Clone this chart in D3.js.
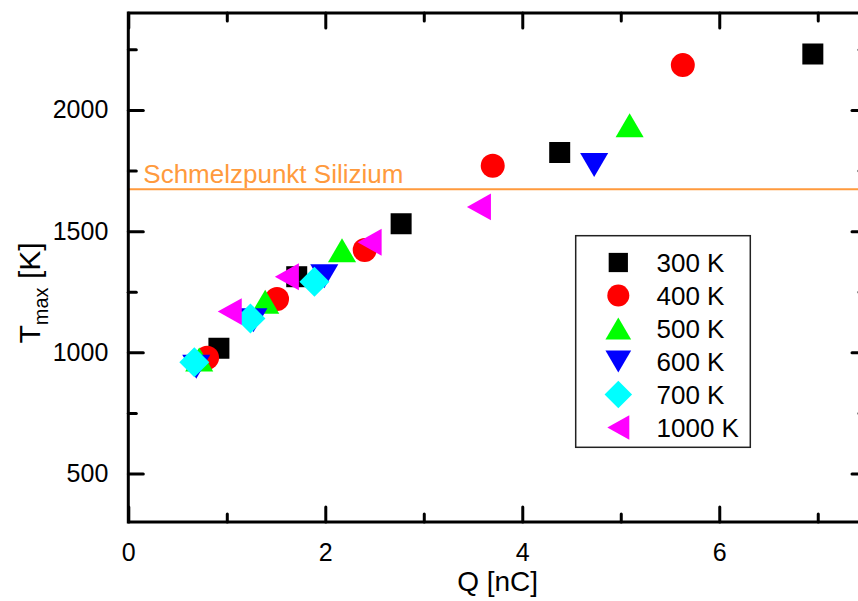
<!DOCTYPE html>
<html>
<head>
<meta charset="utf-8">
<script src="https://cdn.jsdelivr.net/npm/d3@7"></script>
<style>
  html, body { margin: 0; padding: 0; background: #fff; }
  svg { display: block; font-family: "Liberation Sans", Arial, sans-serif; }
</style>
</head>
<body>
<svg id="chart" width="858" height="601"></svg>
<script>
// Maximum temperature versus deposited charge, one series per substrate temperature
const seriesNames = ["300 K", "400 K", "500 K", "600 K", "700 K", "1000 K"];
const seriesColors = ["#000000", "#ff0000", "#00ff00", "#0000ff", "#00ffff", "#ff00ff"];
const seriesShapes = ["square", "circle", "triangleUp", "triangleDown", "diamond", "triangleLeft"];

const q300 = [0.92, 1.71, 2.77, 4.38, 6.95];
const t300 = [1017, 1312, 1531, 1824, 2231];
const q400 = [0.80, 1.51, 2.40, 3.70, 5.63];
const t400 = [978, 1220, 1422, 1770, 2185];
const q500 = [0.72, 1.39, 2.17, 5.09];
const t500 = [970, 1209, 1421, 1937];
const q600 = [0.69, 1.27, 1.99, 4.73];
const t600 = [941, 1132, 1314, 1773];
const q700 = [0.67, 1.24, 1.89];
const t700 = [959, 1140, 1291];
const q1000 = [1.03, 1.61, 2.45, 3.56];
const t1000 = [1168, 1312, 1454, 1600];

const xMajorTicks = [0, 2, 4, 6];
const xMinorTicks = [1, 3, 5, 7];
const yMajorTicks = [500, 1000, 1500, 2000];
const yMinorTicks = [750, 1250, 1750, 2250];

const meltingPoint = 1673;
const meltingLabel = "Schmelzpunkt Silizium";

const seriesQ = [q300, q400, q500, q600, q700, q1000];
const seriesT = [t300, t400, t500, t600, t700, t1000];
const series = seriesNames.map((name, i) => ({
  name, color: seriesColors[i], shape: seriesShapes[i],
  points: seriesQ[i].map((q, j) => ({ q, t: seriesT[i][j] }))
}));

// Layout
const plotLeft = 128.3, plotRight = 867, plotTop = 13, plotBottom = 522;
const x = d3.scaleLinear().domain([0, 7.5]).range([plotLeft, plotRight]);
const y = d3.scaleLinear().domain([300, 2400]).range([plotBottom, plotTop]);

const svg = d3.select("#chart");

// Marker shapes as custom d3.symbol types; size = nominal width in px
const shapeTypes = {
  square: { draw(c, s) { const h = s * 0.875 / 2; c.rect(-h, -h, 2 * h, 2 * h); } },
  circle: { draw(c, s) { const r = s / 2; c.moveTo(r, 0); c.arc(0, 0, r, 0, 2 * Math.PI); } },
  triangleUp: { draw(c, s) { const w = s * 1.17 / 2, h = s / 2;
    c.moveTo(0, -h); c.lineTo(w, h); c.lineTo(-w, h); c.closePath(); } },
  triangleDown: { draw(c, s) { const w = s * 1.17 / 2, h = s / 2;
    c.moveTo(0, h); c.lineTo(w, -h); c.lineTo(-w, -h); c.closePath(); } },
  diamond: { draw(c, s) { const r = s * 1.25 / 2;
    c.moveTo(0, -r); c.lineTo(r, 0); c.lineTo(0, r); c.lineTo(-r, 0); c.closePath(); } },
  triangleLeft: { draw(c, s) { const w = s / 2, h = s * 1.12 / 2;
    c.moveTo(-w, 0); c.lineTo(w, -h); c.lineTo(w, h); c.closePath(); } }
};
const symbolPath = (shape, size) => d3.symbol().type(shapeTypes[shape]).size(size)();

// Clip region for the plotting area
svg.append("defs").append("clipPath").attr("id", "plotClip")
  .append("rect").attr("x", plotLeft).attr("y", plotTop)
  .attr("width", plotRight - plotLeft).attr("height", plotBottom - plotTop);

// Melting point reference line and its label
svg.append("line")
  .attr("x1", plotLeft).attr("x2", plotRight)
  .attr("y1", y(meltingPoint)).attr("y2", y(meltingPoint))
  .attr("stroke", "#ff9a3d").attr("stroke-width", 2);
svg.append("text")
  .attr("x", plotLeft + 15).attr("y", y(meltingPoint) - 6.5)
  .attr("fill", "#ff9a3d").attr("font-size", 26)
  .text(meltingLabel);

// Data markers
const plot = svg.append("g").attr("clip-path", "url(#plotClip)");
series.forEach(s => {
  plot.append("g").selectAll("path")
    .data(s.points)
    .join("path")
    .attr("transform", d => `translate(${x(d.q)},${y(d.t)})`)
    .attr("d", symbolPath(s.shape, 24))
    .attr("fill", s.color);
});

// Axes: ticks point inward on all four sides
function styleAxis(g) {
  g.select(".domain").remove();
  g.selectAll(".tick line").attr("stroke", "#000").attr("stroke-width", 3).attr("stroke-linecap", "round");
  g.selectAll("text").attr("fill", "#000").attr("font-size", 25)
    .attr("font-family", "'Liberation Sans', Arial, sans-serif");
}
const majorLen = 15, minorLen = 8;

svg.append("g").attr("transform", `translate(0,${plotBottom})`)
  .call(d3.axisBottom(x).tickValues(xMajorTicks).tickSizeInner(-majorLen).tickSizeOuter(0)
    .tickPadding(21).tickFormat(d3.format("d")))
  .call(styleAxis);
svg.append("g").attr("transform", `translate(0,${plotBottom})`)
  .call(d3.axisBottom(x).tickValues(xMinorTicks).tickSizeInner(-minorLen).tickSizeOuter(0).tickFormat(""))
  .call(styleAxis);
svg.append("g").attr("transform", `translate(0,${plotTop})`)
  .call(d3.axisTop(x).tickValues(xMajorTicks).tickSizeInner(-majorLen).tickSizeOuter(0).tickFormat(""))
  .call(styleAxis);
svg.append("g").attr("transform", `translate(0,${plotTop})`)
  .call(d3.axisTop(x).tickValues(xMinorTicks).tickSizeInner(-minorLen).tickSizeOuter(0).tickFormat(""))
  .call(styleAxis);

svg.append("g").attr("transform", `translate(${plotLeft},0)`)
  .call(d3.axisLeft(y).tickValues(yMajorTicks).tickSizeInner(-majorLen).tickSizeOuter(0)
    .tickPadding(20).tickFormat(d3.format("d")))
  .call(styleAxis);
svg.append("g").attr("transform", `translate(${plotLeft},0)`)
  .call(d3.axisLeft(y).tickValues(yMinorTicks).tickSizeInner(-minorLen).tickSizeOuter(0).tickFormat(""))
  .call(styleAxis);
svg.append("g").attr("transform", `translate(${plotRight},0)`)
  .call(d3.axisRight(y).tickValues(yMajorTicks).tickSizeInner(-majorLen).tickSizeOuter(0).tickFormat(""))
  .call(styleAxis);
svg.append("g").attr("transform", `translate(${plotRight},0)`)
  .call(d3.axisRight(y).tickValues(yMinorTicks).tickSizeInner(-minorLen).tickSizeOuter(0).tickFormat(""))
  .call(styleAxis);

// Frame
svg.append("rect")
  .attr("x", plotLeft).attr("y", plotTop)
  .attr("width", plotRight - plotLeft).attr("height", plotBottom - plotTop)
  .attr("fill", "none").attr("stroke", "#000").attr("stroke-width", 3);

// Axis titles
svg.append("text")
  .attr("x", (plotLeft + plotRight) / 2).attr("y", 591)
  .attr("text-anchor", "middle").attr("font-size", 28)
  .text("Q [nC]");

const yTitle = svg.append("text")
  .attr("transform", "translate(40,293) rotate(-90)")
  .attr("text-anchor", "middle").attr("font-size", 30);
yTitle.append("tspan").text("T");
yTitle.append("tspan").attr("font-size", 20).attr("dy", 8).text("max");
yTitle.append("tspan").attr("dy", -8).text(" [K]");

// Legend
const lg = { x: 575.7, y: 235.7, w: 174.6, h: 211.6 };
const legend = svg.append("g");
legend.append("rect")
  .attr("x", lg.x).attr("y", lg.y).attr("width", lg.w).attr("height", lg.h)
  .attr("fill", "#fff").attr("stroke", "#222").attr("stroke-width", 1.5);
const rowY = d3.scalePoint().domain(seriesNames).range([262.5, 427.5]);
series.forEach(s => {
  const cy = rowY(s.name);
  legend.append("path")
    .attr("transform", `translate(618.3,${cy})`)
    .attr("d", symbolPath(s.shape, 22))
    .attr("fill", s.color);
  legend.append("text")
    .attr("x", 656.5).attr("y", cy).attr("dy", "0.35em")
    .attr("font-size", 26).attr("fill", "#000")
    .text(s.name);
});
</script>
</body>
</html>
